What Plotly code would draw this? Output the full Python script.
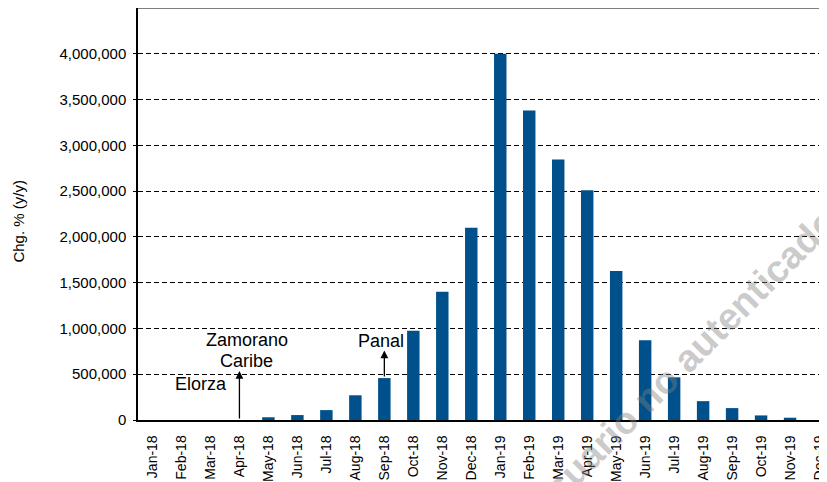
import plotly.graph_objects as go

months = ["Jan-18", "Feb-18", "Mar-18", "Apr-18", "May-18", "Jun-18", "Jul-18", "Aug-18",
          "Sep-18", "Oct-18", "Nov-18", "Dec-18", "Jan-19", "Feb-19", "Mar-19", "Apr-19",
          "May-19", "Jun-19", "Jul-19", "Aug-19", "Sep-19", "Oct-19", "Nov-19", "Dec-19"]
values = [0, 0, 0, 0, 30000, 54000, 108000, 270000, 458000, 975000, 1400000, 2100000,
          4000000, 3380000, 2845000, 2510000, 1627000, 870000, 466000, 206000, 130000,
          50000, 25000, 0]
y_ticks = [0, 500000, 1000000, 1500000, 2000000, 2500000, 3000000, 3500000, 4000000]

OFF = 8  # page body margin
W, H = 819, 474
L, R, T, B = 130, 0, 0, 57
font = "Liberation Sans, Arial, sans-serif"

fig = go.Figure()
fig.add_trace(go.Bar(x=months, y=values, width=0.43,
                     marker=dict(color="#00518B", line=dict(width=0))))

def px(xp):
    return (xp - OFF - L) / (W - L - R)

def py(yp):
    return (H - B - (yp - OFF)) / (H - B - T)

ann = []
# arrows
ann.append(dict(x=3, y=535000, ax=3, ay=0, xref="x", yref="y", axref="x", ayref="y",
                showarrow=True, arrowhead=2, arrowsize=1.2, arrowwidth=1.3, arrowcolor="black", text=""))
ann.append(dict(x=8, y=760000, ax=8, ay=458000, xref="x", yref="y", axref="x", ayref="y",
                showarrow=True, arrowhead=2, arrowsize=1.2, arrowwidth=1.3, arrowcolor="black", text=""))
for txt, xx, yy in [("Zamorano", 247, 344), ("Caribe", 247, 365), ("Elorza", 201, 389), ("Panal", 381, 345)]:
    ann.append(dict(x=px(xx), y=py(yy), xref="paper", yref="paper", text=txt, showarrow=False,
                    font=dict(family=font, size=18, color="black"), xanchor="center", yanchor="middle"))
ann.append(dict(x=px(18), y=py(224), xref="paper", yref="paper", text="Chg. % (y/y)", textangle=-90,
                showarrow=False, font=dict(family=font, size=15, color="black"),
                xanchor="center", yanchor="middle"))
ann.append(dict(x=px(682), y=py(368), xref="paper", yref="paper", text="<b>Usuario no autenticado</b>",
                textangle=-45, showarrow=False,
                font=dict(family=font, size=38, color="rgba(128,128,128,0.42)"),
                xanchor="center", yanchor="middle"))

fig.update_layout(
    width=W, height=H, margin=dict(l=L, r=R, t=T, b=B),
    paper_bgcolor="white", plot_bgcolor="white", showlegend=False,
    font=dict(family=font, size=14, color="black"),
    annotations=ann,
    shapes=[dict(type="line", xref="paper", yref="paper", x0=0, x1=1, y0=1, y1=1,
                 line=dict(color="#555555", width=1.5))],
    xaxis=dict(type="category", range=[-0.5, 23.24], showline=True, linecolor="black",
               linewidth=1.5, ticks="outside", ticklen=8, tickcolor="rgba(0,0,0,0)",
               tickangle=-90, showgrid=False,
               tickfont=dict(family=font, size=14, color="black")),
    yaxis=dict(range=[0, 4500000], tickvals=y_ticks, tickformat=",d", showline=True,
               linecolor="black", linewidth=1.5, ticks="outside", ticklen=3, tickcolor="black",
               ticklabelstandoff=4,
               showgrid=True, gridcolor="black", gridwidth=1, griddash="5px,3px",
               zeroline=False, tickfont=dict(family=font, size=15, color="black")),
)

fig.write_html("out.html")
